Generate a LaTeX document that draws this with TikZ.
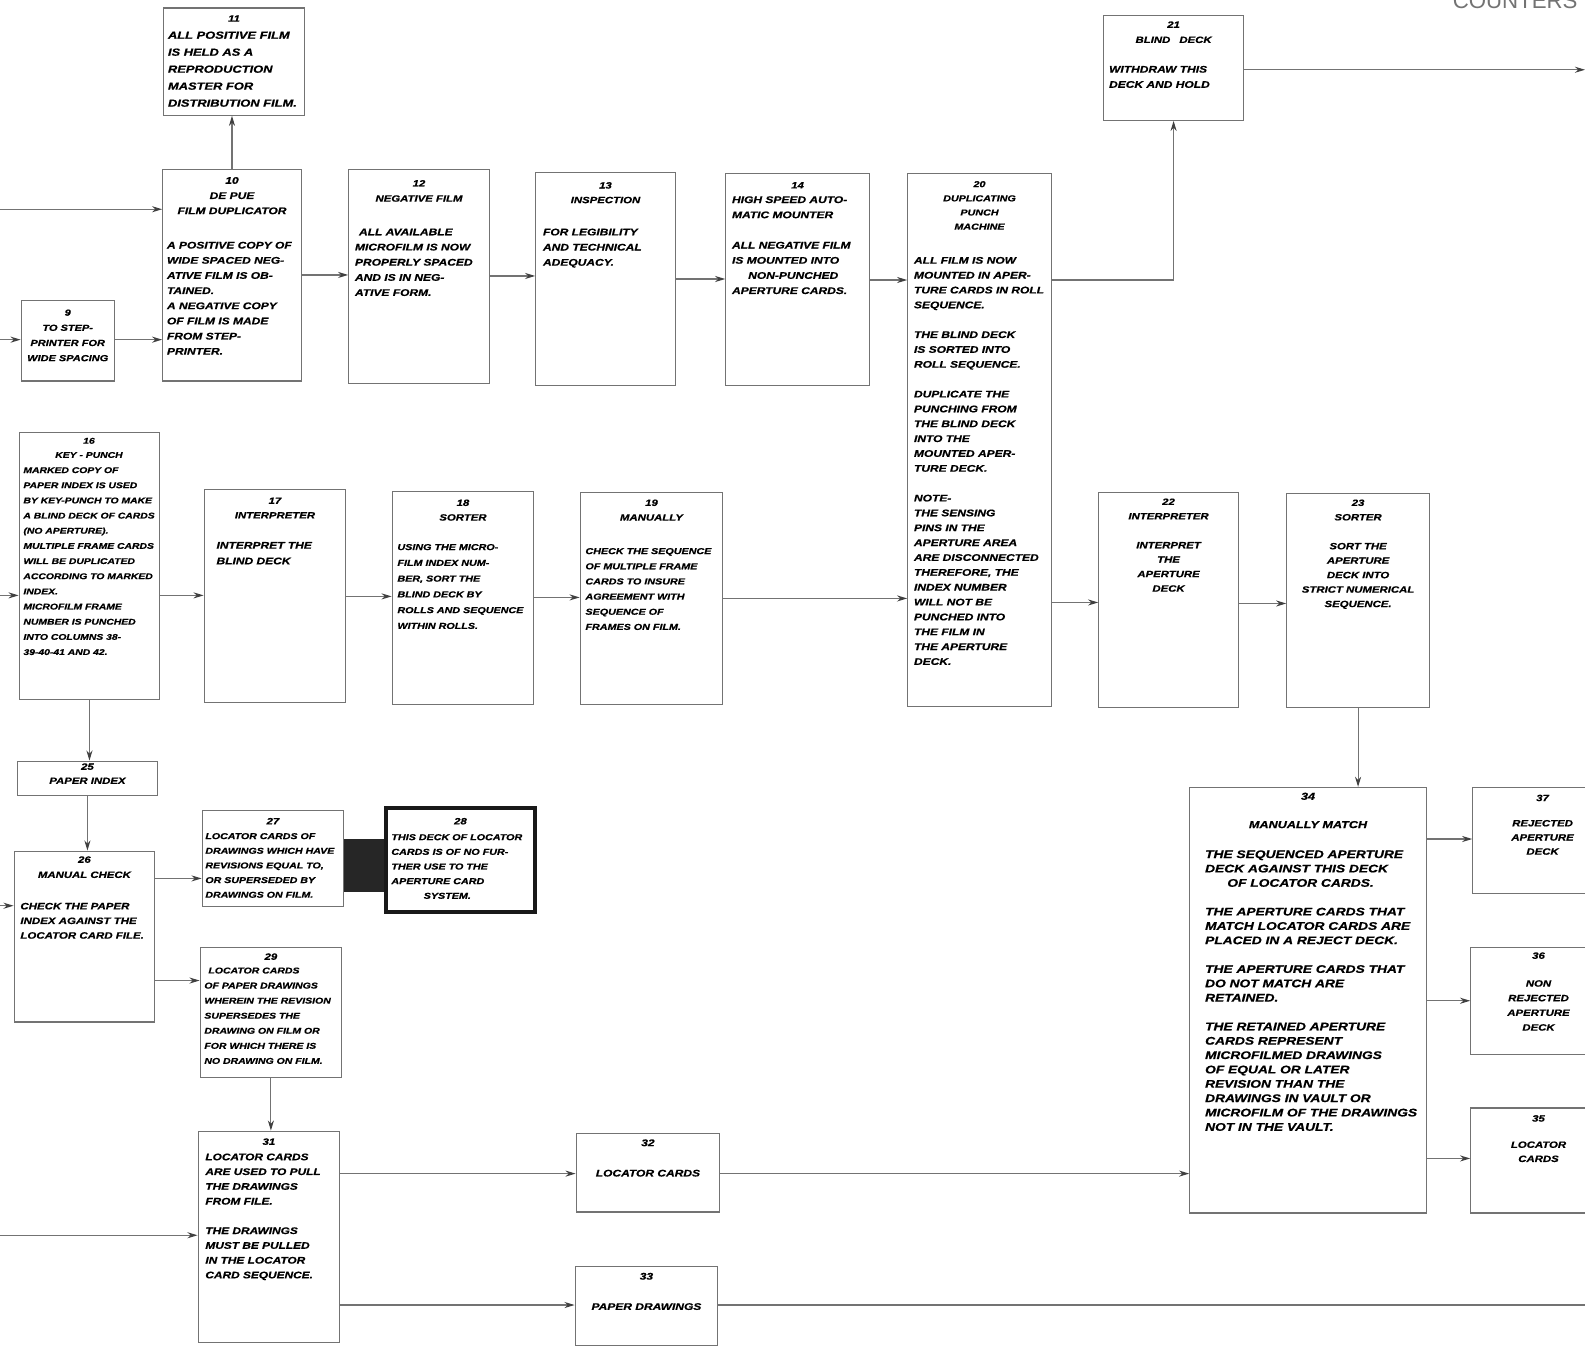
\documentclass[tikz,border=0pt]{standalone}
\usepackage{fontspec}
\newfontfamily\hw[FakeStretch=1.25, BoldItalicFeatures={FakeBold=0.8}]{Liberation Sans}
\usetikzlibrary{fit,arrows.meta}
\definecolor{ln}{gray}{0.45}
\definecolor{tx}{gray}{0.0}
\begin{document}
\begin{tikzpicture}[x=1pt,y=-1pt,
  box/.style={draw=ln, line width=1.2pt, inner sep=0pt, fit={#1}},
  fs/.style 2 args={font={\hw\bfseries\itshape\fontsize{#1}{#2}\selectfont}},
  hd/.style={inner sep=0pt, text=tx, anchor=north, align=center},
  bd/.style={inner sep=0pt, text=tx, anchor=north west, align=left},
  arr/.style={draw=ln, line width=1.1pt, -{Stealth[length=10pt,width=6pt,color=black!75]}},
  ln/.style={draw=ln, line width=1.1pt}]
\useasboundingbox (0,0) rectangle (1568,1331);
\fill[white] (0,0) rectangle (1568,1331);

% top-right cut-off title
\node[anchor=base west, inner sep=0pt, text=ln, font={\fontspec{Liberation Sans}\fontsize{22}{22}\selectfont}] (ttl) at (1437,8) {COUNTERS};

% ---------- top row ----------
\node[box={(162,8) (301,114)}] (n11) {};
\node[hd, fs={9}{16}] (h11) at (231.5,15) {11};
\node[bd, fs={10.2}{16.8}] (b11) at (166,31) {ALL POSITIVE FILM\\IS HELD AS A\\REPRODUCTION\\MASTER FOR\\DISTRIBUTION FILM.};

\node[box={(161,168) (298,377)}] (n10) {};
\node[hd, fs={9.5}{15}] (h10) at (229.5,175) {10\\DE PUE\\FILM DUPLICATOR};
\node[bd, fs={9.5}{15}] (b10) at (165,239) {A POSITIVE COPY OF\\WIDE SPACED NEG-\\ATIVE FILM IS OB-\\TAINED.\\A NEGATIVE COPY\\OF FILM IS MADE\\FROM STEP-\\PRINTER.};

\node[box={(21,297) (113,377)}] (n9) {};
\node[hd, fs={8.7}{15}] (h9) at (67,306) {9\\TO STEP-\\PRINTER FOR\\WIDE SPACING};

\node[box={(345,168) (484,379)}] (n12) {};
\node[hd, fs={9}{15}] (h12) at (414.5,178) {12\\NEGATIVE FILM};
\node[bd, fs={9.5}{15}] (b12) at (351,226) {\hspace*{4pt}ALL AVAILABLE\\MICROFILM IS NOW\\PROPERLY SPACED\\AND IS IN NEG-\\ATIVE FORM.};

\node[box={(530,171) (668,381)}] (n13) {};
\node[hd, fs={9}{14.5}] (h13) at (599,180) {13\\INSPECTION};
\node[bd, fs={9.5}{15}] (b13) at (537,226) {FOR LEGIBILITY\\AND TECHNICAL\\ADEQUACY.};

\node[box={(718,172) (860,381)}] (n14) {};
\node[hd, fs={9}{15}] (h14) at (789,180) {14};
\node[bd, fs={9.5}{15}] (b14) at (724,194) {HIGH SPEED AUTO-\\MATIC MOUNTER\\[15pt]ALL NEGATIVE FILM\\IS MOUNTED INTO\\\hspace*{16pt}NON-PUNCHED\\APERTURE CARDS.};

\node[box={(898,172) (1040,699)}] (n20) {};
\node[hd, fs={8.5}{14}] (h20) at (969,179) {20\\DUPLICATING\\PUNCH\\MACHINE};
\node[bd, fs={9.5}{14.7}] (b20) at (904,254) {ALL FILM IS NOW\\MOUNTED IN APER-\\TURE CARDS IN ROLL\\SEQUENCE.\\[14.7pt]THE BLIND DECK\\IS SORTED INTO\\ROLL SEQUENCE.\\[14.7pt]DUPLICATE THE\\PUNCHING FROM\\THE BLIND DECK\\INTO THE\\MOUNTED APER-\\TURE DECK.\\[14.7pt]NOTE-\\THE SENSING\\PINS IN THE\\APERTURE AREA\\ARE DISCONNECTED\\THEREFORE, THE\\INDEX NUMBER\\WILL NOT BE\\PUNCHED INTO\\THE FILM IN\\THE APERTURE\\DECK.};

\node[box={(1092,15) (1230,119)}] (n21) {};
\node[hd, fs={9}{15}] (h21) at (1161,21) {21\\BLIND\quad DECK};
\node[bd, fs={9.5}{15}] (b21) at (1097,65) {WITHDRAW THIS\\DECK AND HOLD};

% ---------- middle row ----------
\node[box={(19,428) (158,692)}] (n16) {};
\node[hd, fs={8.2}{14}] (h16) at (88,433) {16\\KEY - PUNCH};
\node[bd, fs={8.2}{15}] (b16) at (23,462) {MARKED COPY OF\\PAPER INDEX IS USED\\BY KEY-PUNCH TO MAKE\\A BLIND DECK OF CARDS\\(NO APERTURE).\\MULTIPLE FRAME CARDS\\WILL BE DUPLICATED\\ACCORDING TO MARKED\\INDEX.\\MICROFILM FRAME\\NUMBER IS PUNCHED\\INTO COLUMNS 38-\\39-40-41 AND 42.};

\node[box={(202,484) (342,695)}] (n17) {};
\node[hd, fs={9}{14.5}] (h17) at (272,492) {17\\INTERPRETER};
\node[bd, fs={9.5}{15.5}] (b17) at (214,536) {INTERPRET THE\\BLIND DECK};

\node[box={(388,486) (528,697)}] (n18) {};
\node[hd, fs={9}{14.5}] (h18) at (458,494) {18\\SORTER};
\node[bd, fs={8.5}{15.6}] (b18) at (393,538) {USING THE MICRO-\\FILM INDEX NUM-\\BER, SORT THE\\BLIND DECK BY\\ROLLS AND SEQUENCE\\WITHIN ROLLS.};

\node[box={(574,487) (715,697)}] (n19) {};
\node[hd, fs={9}{14.5}] (h19) at (644.5,494) {19\\MANUALLY};
\node[bd, fs={8.5}{15}] (b19) at (579,542) {CHECK THE SEQUENCE\\OF MULTIPLE FRAME\\CARDS TO INSURE\\AGREEMENT WITH\\SEQUENCE OF\\FRAMES ON FILM.};

\node[box={(1087,487) (1225,700)}] (n22) {};
\node[hd, fs={9}{14.3}] (h22) at (1156,493) {22\\INTERPRETER\\[14.3pt]INTERPRET\\THE\\APERTURE\\DECK};

\node[box={(1273,488) (1414,700)}] (n23) {};
\node[hd, fs={9}{14.3}] (h23) at (1343.5,494) {23\\SORTER\\[14.3pt]SORT THE\\APERTURE\\DECK INTO\\STRICT NUMERICAL\\SEQUENCE.};

% ---------- lower part ----------
\node[box={(17,753) (156,787)}] (n25) {};
\node[hd, fs={9}{14}] (h25) at (86.5,755) {25\\PAPER INDEX};

\node[box={(14,842) (153,1011)}] (n26) {};
\node[hd, fs={9}{15}] (h26) at (83.5,847) {26\\MANUAL CHECK};
\node[bd, fs={9.1}{14.5}] (b26) at (20,893) {CHECK THE PAPER\\INDEX AGAINST THE\\LOCATOR CARD FILE.};

\node[box={(200,802) (340,897)}] (n27) {};
\node[hd, fs={9}{14}] (h27) at (270,809) {27};
\node[bd, fs={8.4}{14.5}] (b27) at (203,824) {LOCATOR CARDS OF\\DRAWINGS WHICH HAVE\\REVISIONS EQUAL TO,\\OR SUPERSEDED BY\\DRAWINGS ON FILM.};

\node[fill=black!85, inner sep=0pt, fit={(340,830) (381,882)}] (blk) {};
\node[draw=black!90, line width=4pt, inner sep=0pt, fit={(382,799) (529,902)}] (n28) {};
\node[hd, fs={9}{14}] (h28) at (455.5,809) {28};
\node[bd, fs={8.5}{14.5}] (b28) at (387,825) {THIS DECK OF LOCATOR\\CARDS IS OF NO FUR-\\THER USE TO THE\\APERTURE CARD\\\hspace*{32pt}SYSTEM.};

\node[box={(198,937) (338,1066)}] (n29) {};
\node[hd, fs={9}{14}] (h29) at (268,943) {29};
\node[bd, fs={8.3}{14.9}] (b29) at (202,957) {\hspace*{4pt}LOCATOR CARDS\\OF PAPER DRAWINGS\\WHEREIN THE REVISION\\SUPERSEDES THE\\DRAWING ON FILM OR\\FOR WHICH THERE IS\\NO DRAWING ON FILM.};

\node[box={(196,1119) (336,1328)}] (n31) {};
\node[hd, fs={9}{14}] (h31) at (266,1126) {31};
\node[bd, fs={9.4}{14.6}] (b31) at (203,1141) {LOCATOR CARDS\\ARE USED TO PULL\\THE DRAWINGS\\FROM FILE.\\[14.6pt]THE DRAWINGS\\MUST BE PULLED\\IN THE LOCATOR\\CARD SEQUENCE.};

\node[box={(570,1121) (712,1199)}] (n32) {};
\node[hd, fs={9.5}{15}] (h32) at (641,1127) {32\\[15pt]LOCATOR CARDS};

\node[box={(569,1253) (710,1331)}] (n33) {};
\node[hd, fs={9.5}{15}] (h33) at (639.5,1259) {33\\[15pt]PAPER DRAWINGS};

\node[box={(1177,779) (1411,1200)}] (n34) {};
\node[hd, fs={10}{14}] (h34) at (1294,784) {34\\[14pt]MANUALLY MATCH};
\node[bd, fs={10.9}{14.2}] (b34) at (1192,841) {THE SEQUENCED APERTURE\\DECK AGAINST THIS DECK\\\hspace*{22pt}OF LOCATOR CARDS.\\[14.2pt]THE APERTURE CARDS THAT\\MATCH LOCATOR CARDS ARE\\PLACED IN A REJECT DECK.\\[14.2pt]THE APERTURE CARDS THAT\\DO NOT MATCH ARE\\RETAINED.\\[14.2pt]THE RETAINED APERTURE\\CARDS REPRESENT\\MICROFILMED DRAWINGS\\OF EQUAL OR LATER\\REVISION THAN THE\\DRAWINGS IN VAULT OR\\MICROFILM OF THE DRAWINGS\\NOT IN THE VAULT.};

\node[box={(1457,779) (1600,884)}] (n37) {};
\node[hd, fs={9}{14}] (h37) at (1526,786) {37\\[11pt]REJECTED\\APERTURE\\DECK};

\node[box={(1455,937) (1600,1043)}] (n36) {};
\node[hd, fs={9}{14.5}] (h36) at (1522,942) {36\\[13pt]NON\\REJECTED\\APERTURE\\DECK};

\node[box={(1455,1096) (1600,1200)}] (n35) {};
\node[hd, fs={9}{14}] (h35) at (1522,1103) {35\\[12pt]LOCATOR\\CARDS};

% ---------- connectors ----------
\coordinate (in10) at (0,207);
\coordinate (in9) at (0,336);
\coordinate (in16) at (0,589);
\coordinate (in26) at (0,896);
\coordinate (in31) at (0,1222);
\coordinate (out21) at (1568,69);
\coordinate (out33) at (1572,1291);

\draw[arr] (in10) -- (in10 -| n10.west);
\draw[arr] (in9) -- (in9 -| n9.west);
\draw[arr] (n9.east |- in9) -- (in9 -| n10.west);
\draw[arr] (n10.north) -- (n10.north |- n11.south);
\draw[arr] (n10.east |- 0,272) -- (n12.west |- 0,272);
\draw[arr] (n12.east |- 0,273) -- (n13.west |- 0,273);
\draw[arr] (n13.east |- 0,276) -- (n14.west |- 0,276);
\draw[arr] (n14.east |- 0,277) -- (n20.west |- 0,277);
\draw[arr] (n20.east |- 0,277) -| (n21.south);
\draw[arr] (n21.east |- out21) -- (out21);

\draw[arr] (in16) -- (in16 -| n16.west);
\draw[arr] (n16.east |- in16) -- (in16 -| n17.west);
\draw[arr] (n17.east |- 0,590) -- (n18.west |- 0,590);
\draw[arr] (n18.east |- 0,591) -- (n19.west |- 0,591);
\draw[arr] (n19.east |- 0,592) -- (n20.west |- 0,592);
\draw[arr] (n20.east |- 0,596) -- (n22.west |- 0,596);
\draw[arr] (n22.east |- 0,597) -- (n23.west |- 0,597);
\draw[arr] (n23.south) -- (n23.south |- n34.north);

\draw[arr] (n16.south) -- (n16.south |- n25.north);
\draw[arr] (n25.south) -- (n25.south |- n26.north);
\draw[arr] (in26) -- (in26 -| n26.west);
\draw[arr] (n26.east |- 0,869) -- (n27.west |- 0,869);
\draw[arr] (n26.east |- 0,970) -- (n29.west |- 0,970);
\draw[arr] (n29.south) -- (n29.south |- n31.north);
\draw[arr] (in31) -- (in31 -| n31.west);
\draw[arr] (n31.east |- 0,1161) -- (n32.west |- 0,1161);
\draw[arr] (n31.east |- 0,1291) -- (n33.west |- 0,1291);
\draw[arr] (n32.east |- 0,1161) -- (n34.west |- 0,1161);
\draw[ln] (n33.east |- out33) -- (out33);
\draw[arr] (n34.east |- 0,830) -- (n37.west |- 0,830);
\draw[arr] (n34.east |- 0,990) -- (n36.west |- 0,990);
\draw[arr] (n34.east |- 0,1146) -- (n35.west |- 0,1146);
\end{tikzpicture}
\end{document}
